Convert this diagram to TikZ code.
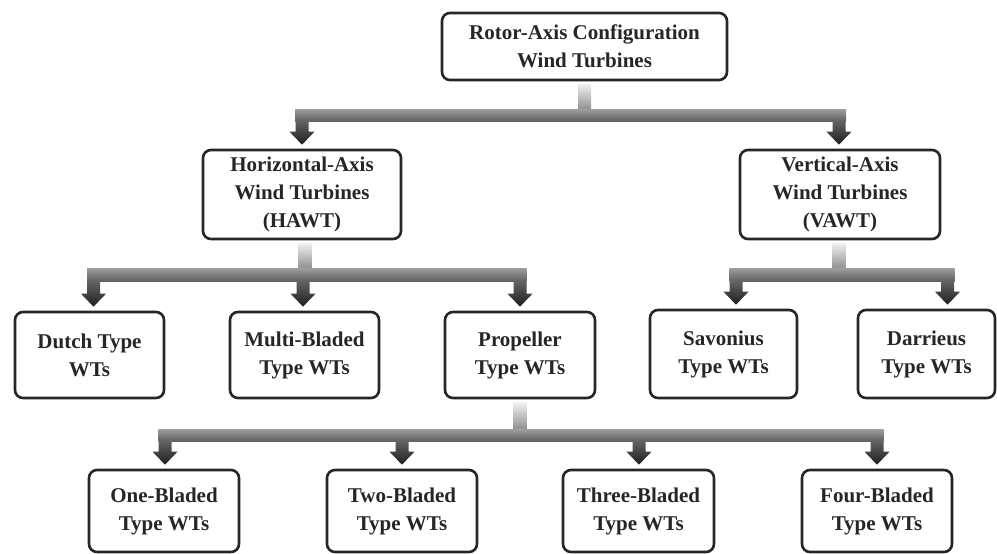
\documentclass[tikz,border=0pt]{standalone}
\usepackage{fontspec}
\setmainfont{Liberation Serif}
\usetikzlibrary{calc}

% arrow from a bar down to a child box: child node, bar bottom, x offset
\newcommand{\treetip}[3]{%
  \path (#1.north |- #2) ++(#3,-1) coordinate (tt0);
  \path (#1.north) ++(#3,-4) coordinate (tt1);
  \shade[tipshade] ($(tt0)+(-6.5,0)$) -- ($(tt1)+(-6.5,-13)$) -- ($(tt1)+(-12.5,-13)$)
    -- (tt1) -- ($(tt1)+(12.5,-13)$) -- ($(tt1)+(6.5,-13)$) -- ($(tt0)+(6.5,0)$) -- cycle;
}
% stem from a parent box down to a bar: parent node, bar top, x offset
\newcommand{\treestem}[3]{%
  \shade[stemshade] ($(#1.south)+(#3-6.5,3)$) rectangle ($(#1.south |- #2)+(#3+6.5,1)$);
}

\begin{document}
\begin{tikzpicture}[
    x=1pt, y=-1pt,
    box/.style={draw=black!85, line width=2.6pt, rounded corners=8pt, fill=white,
      align=center, inner sep=0pt, text=black!85,
      font=\fontsize{21}{28}\selectfont\bfseries},
    stemshade/.style={top color=black!6, bottom color=black!45},
    barshade/.style={top color=black!38, bottom color=black!62},
    tipshade/.style={top color=black!60, bottom color=black!88}
]
    \useasboundingbox (0,0) rectangle (997,554);

    % --- boxes ---
    \node[box, minimum width=285, minimum height=67] (root) at (584.5,46.5) {Rotor-Axis Configuration\\Wind Turbines};

    \node[box, minimum width=198, minimum height=89] (hawt) at (302,194.5) {Horizontal-Axis\\Wind Turbines\\(HAWT)};
    \node[box, minimum width=200, minimum height=89] (vawt) at (840,194.5) {Vertical-Axis\\Wind Turbines\\(VAWT)};

    \node[box, minimum width=149, minimum height=86] (dutch) at (89.5,355) {Dutch Type\\WTs};
    \node[box, minimum width=149, minimum height=86] (multi) at (304.5,355) {Multi-Bladed\\Type WTs};
    \node[box, minimum width=150, minimum height=86] (prop) at (520,355) {Propeller\\Type WTs};
    \node[box, minimum width=147, minimum height=88] (sav) at (723.5,354) {Savonius\\Type WTs};
    \node[box, minimum width=137, minimum height=88] (darr) at (926.5,354) {Darrieus\\Type WTs};

    \node[box, minimum width=150, minimum height=82] (one) at (164,511) {One-Bladed\\Type WTs};
    \node[box, minimum width=150, minimum height=82] (two) at (402,511) {Two-Bladed\\Type WTs};
    \node[box, minimum width=151, minimum height=82] (three) at (638.5,511) {Three-Bladed\\Type WTs};
    \node[box, minimum width=150, minimum height=82] (four) at (877,511) {Four-Bladed\\Type WTs};

    % --- bar levels ---
    \coordinate (bar1t) at (0,109);  \coordinate (bar1b) at (0,121);
    \coordinate (bar2t) at (0,268);  \coordinate (bar2b) at (0,281);
    \coordinate (bar3t) at (0,429);  \coordinate (bar3b) at (0,441);

    % --- root -> HAWT / VAWT ---
    \treestem{root}{bar1t}{0}
    \shade[barshade] ($(hawt.north |- bar1t)+(-7,0)$) rectangle ($(vawt.north |- bar1b)+(6,0)$);
    \treetip{hawt}{bar1b}{0}
    \treetip{vawt}{bar1b}{-1}

    % --- HAWT -> Dutch / Multi / Propeller ---
    \treestem{hawt}{bar2t}{3}
    \shade[barshade] ($(dutch.north |- bar2t)+(-2.5,0)$) rectangle ($(prop.north |- bar2b)+(6.5,0)$);
    \treetip{dutch}{bar2b}{4}
    \treetip{multi}{bar2b}{-1.5}
    \treetip{prop}{bar2b}{0}

    % --- VAWT -> Savonius / Darrieus ---
    \treestem{vawt}{bar2t}{-1}
    \shade[barshade] ($(sav.north |- bar2t)+(6,0)$) rectangle ($(darr.north |- bar2b)+(28,0)$);
    \treetip{sav}{bar2b}{12.5}
    \treetip{darr}{bar2b}{21}

    % --- Propeller -> blade types ---
    \treestem{prop}{bar3t}{0}
    \shade[barshade] ($(one.north |- bar3t)+(-5.5,0)$) rectangle ($(four.north |- bar3b)+(6.5,0)$);
    \treetip{one}{bar3b}{1}
    \treetip{two}{bar3b}{0}
    \treetip{three}{bar3b}{0.5}
    \treetip{four}{bar3b}{0}

\end{tikzpicture}
\end{document}
